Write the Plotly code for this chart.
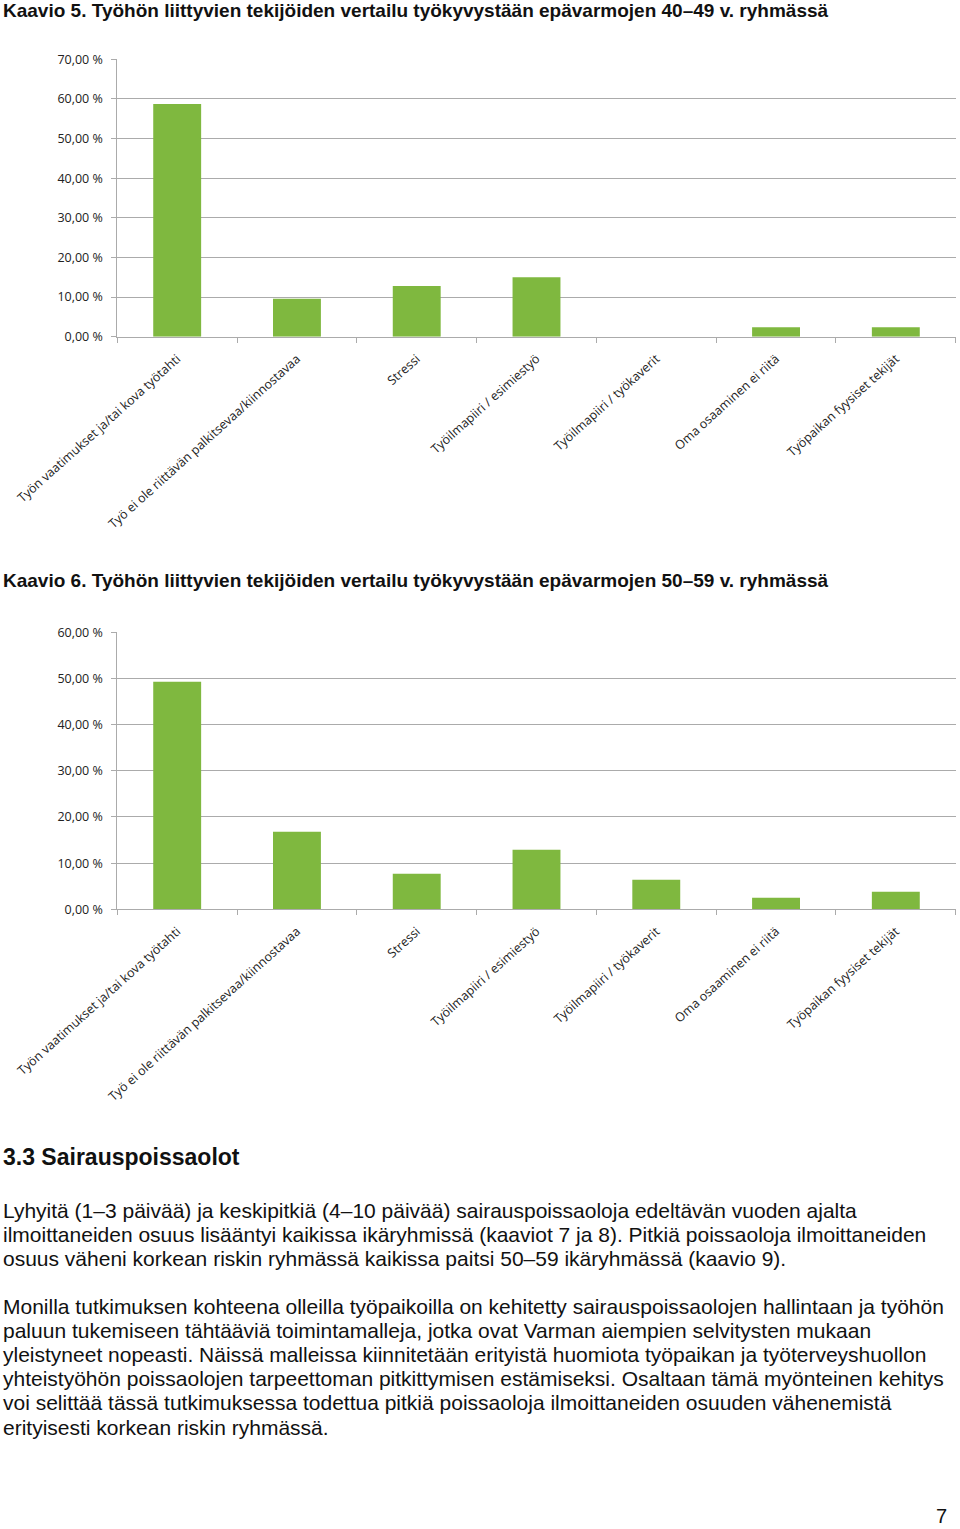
import plotly.graph_objects as go

categories = [
    "Työn vaatimukset ja/tai kova työtahti",
    "Työ ei ole riittävän palkitsevaa/kiinnostavaa",
    "Stressi",
    "Työilmapiiri / esimiestyö",
    "Työilmapiiri / työkaverit",
    "Oma osaaminen ei riitä",
    "Työpaikan fyysiset tekijät",
]
values_40_49 = [58.7, 9.6, 12.8, 15.0, 0.0, 2.4, 2.4]
values_50_59 = [49.3, 16.8, 7.7, 12.9, 6.4, 2.5, 3.8]

title_5 = "Kaavio 5. Työhön liittyvien tekijöiden vertailu työkyvystään epävarmojen 40–49 v. ryhmässä"
title_6 = "Kaavio 6. Työhön liittyvien tekijöiden vertailu työkyvystään epävarmojen 50–59 v. ryhmässä"
heading = "3.3 Sairauspoissaolot"
para_1 = [
    "Lyhyitä (1–3 päivää) ja keskipitkiä (4–10 päivää) sairauspoissaoloja edeltävän vuoden ajalta",
    "ilmoittaneiden osuus lisääntyi kaikissa ikäryhmissä (kaaviot 7 ja 8). Pitkiä poissaoloja ilmoittaneiden",
    "osuus väheni korkean riskin ryhmässä kaikissa paitsi 50–59 ikäryhmässä (kaavio 9).",
]
para_2 = [
    "Monilla tutkimuksen kohteena olleilla työpaikoilla on kehitetty sairauspoissaolojen hallintaan ja työhön",
    "paluun tukemiseen tähtääviä toimintamalleja, jotka ovat Varman aiempien selvitysten mukaan",
    "yleistyneet nopeasti. Näissä malleissa kiinnitetään erityistä huomiota työpaikan ja työterveyshuollon",
    "yhteistyöhön poissaolojen tarpeettoman pitkittymisen estämiseksi. Osaltaan tämä myönteinen kehitys",
    "voi selittää tässä tutkimuksessa todettua pitkiä poissaoloja ilmoittaneiden osuuden vähenemistä",
    "erityisesti korkean riskin ryhmässä.",
]

W, H = 960, 1529
GREEN = "#7fb83f"
GRID = "#ababab"


def py(p):
    return 1 - p / H


fig = go.Figure()
fig.add_trace(go.Bar(x=categories, y=values_40_49, marker=dict(color=GREEN, line=dict(width=0)),
                     xaxis="x", yaxis="y", showlegend=False))
fig.add_trace(go.Bar(x=categories, y=values_50_59, marker=dict(color=GREEN, line=dict(width=0)),
                     xaxis="x2", yaxis="y2", showlegend=False))

xdom = [117.3 / W, 955.7 / W]
xcommon = dict(showline=True, linecolor=GRID, linewidth=1, ticks="outside", tickson="boundaries",
               ticklen=5, tickcolor=GRID, tickangle=-42, showgrid=False, automargin=False,
               ticklabelstandoff=9,
               tickfont=dict(family="Open Sans", size=12.5, color="#222"), domain=xdom)
ycommon = dict(showline=True, linecolor=GRID, linewidth=1, showgrid=True, gridcolor=GRID, gridwidth=1,
               ticks="outside", ticklen=5, tickcolor=GRID, tickformat=".2f", ticksuffix=" %", dtick=10,
               automargin=False, ticklabelstandoff=6,
               tickfont=dict(family="Open Sans", size=12.5, color="#222"), zeroline=False)

fig.update_layout(
    width=W, height=H,
    margin=dict(l=0, r=0, t=0, b=0, autoexpand=False),
    paper_bgcolor="white", plot_bgcolor="white",
    separators=", ",
    bargap=0.6,
    xaxis=dict(xcommon, anchor="y"),
    yaxis=dict(ycommon, range=[0, 70], domain=[py(336.7), py(59.3)], anchor="x"),
    xaxis2=dict(xcommon, anchor="y2"),
    yaxis2=dict(ycommon, range=[0, 60], domain=[py(909.3), py(632.3)], anchor="x2"),
)

body_font = dict(family="Liberation Sans, Arial", size=21, color="#111")
ann = []


def text(s, x, y, font, anchor="left"):
    ann.append(dict(text=s, x=x / W, y=py(y), xref="paper", yref="paper", xanchor=anchor,
                    yanchor="middle", showarrow=False, font=font))


title_font = dict(family="Liberation Sans, Arial", size=19, color="#111")
text("<b>" + title_5 + "</b>", 1, 11, title_font)
text("<b>" + title_6 + "</b>", 1, 580, title_font)
text("<b>" + heading + "</b>", 1, 1157, dict(family="Liberation Sans, Arial", size=23, color="#111"))
for i, line in enumerate(para_1):
    text(line, 1, 1210 + 24 * i, body_font)
for i, line in enumerate(para_2):
    text(line, 1, 1306 + 24.2 * i, body_font)
text("7", 949, 1516, dict(family="Liberation Sans, Arial", size=20, color="#111"), anchor="right")

fig.update_layout(annotations=ann)
fig.write_html("out.html", config={"displayModeBar": False},
               post_script="document.body.style.margin='0';")
